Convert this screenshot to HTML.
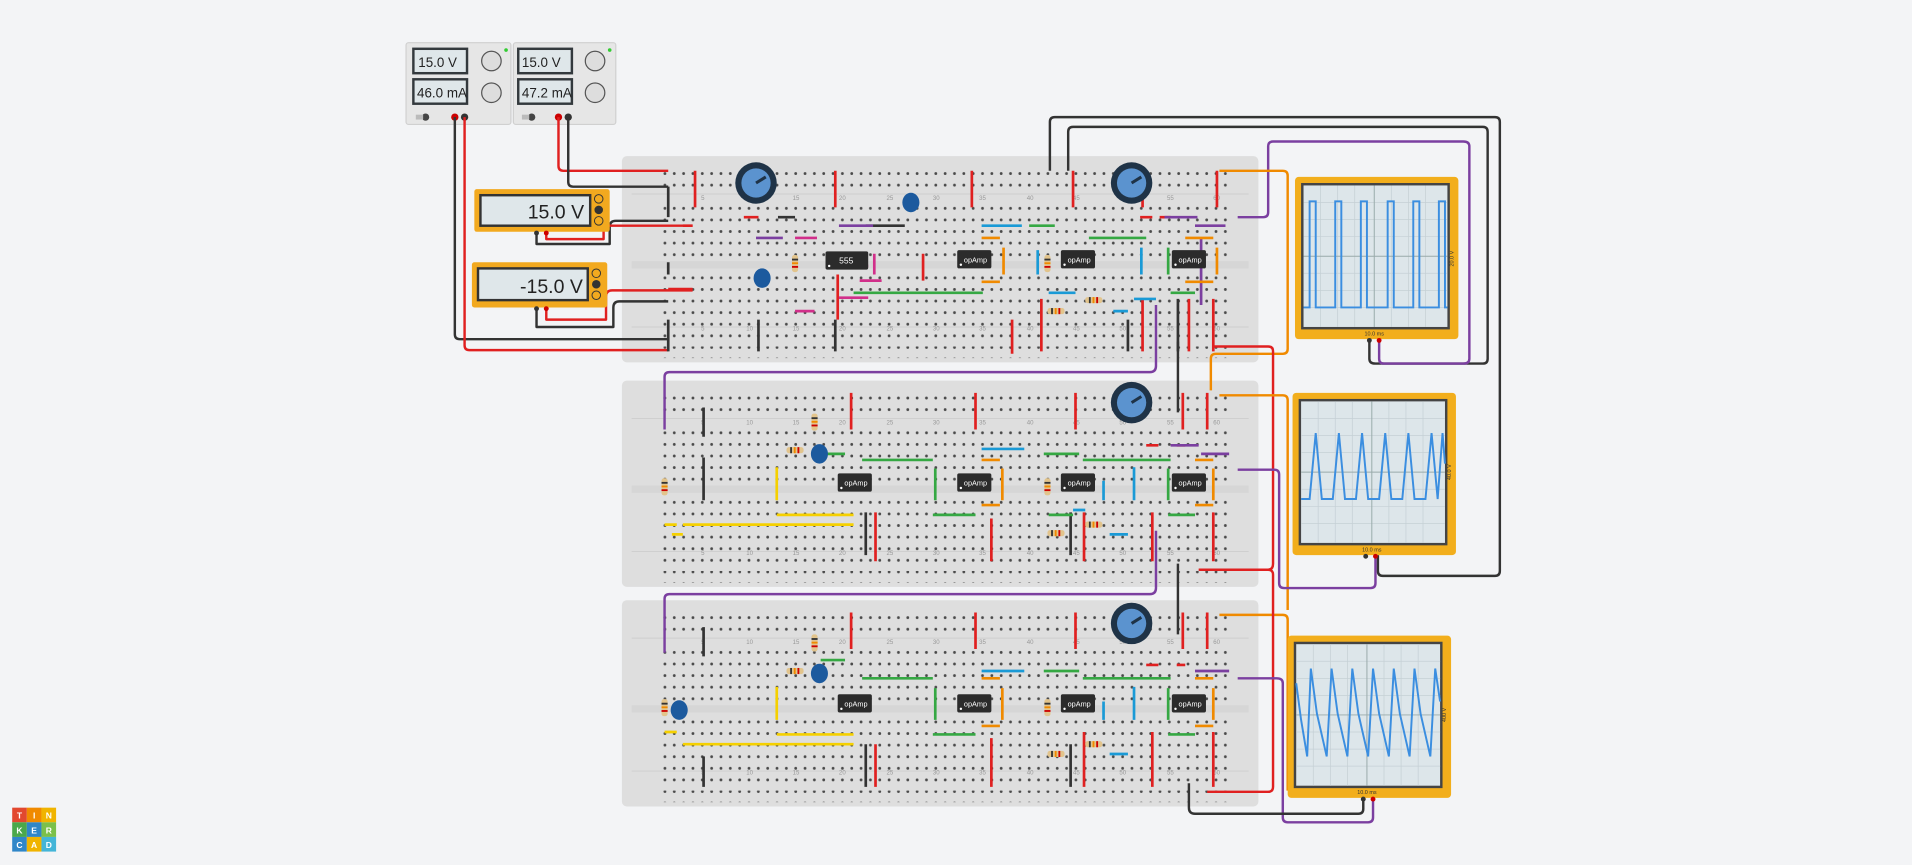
<!DOCTYPE html>
<html><head><meta charset="utf-8"><style>
html,body{margin:0;padding:0;background:#f3f4f6;}
svg{display:block;font-family:"Liberation Sans",sans-serif;}
</style></head><body>
<svg width="1912" height="865" viewBox="0 0 1568 709" preserveAspectRatio="none" xmlns="http://www.w3.org/2000/svg">
<defs>
<pattern id="hp" x="541.5" y="0" width="7.66" height="9.5" patternUnits="userSpaceOnUse">
<circle cx="3.8" cy="4.75" r="1.15" fill="#4a4a4a"/></pattern>
<g id="bb">
<rect x="510" y="0" width="522" height="169" rx="4" fill="#dedede"/>
<rect x="541" y="7.5" width="466" height="9.5" fill="url(#hp)"/>
<rect x="541" y="20" width="466" height="9.5" fill="url(#hp)"/>
<rect x="541" y="37" width="466" height="48" fill="url(#hp)"/>
<rect x="541" y="92.5" width="466" height="48" fill="url(#hp)"/>
<rect x="541" y="143.5" width="466" height="9.5" fill="url(#hp)"/>
<rect x="541" y="156" width="466" height="9.5" fill="url(#hp)"/>
<line x1="518" y1="31" x2="1024" y2="31" stroke="#cfcfcf" stroke-width="0.8"/>
<line x1="518" y1="140" x2="1024" y2="140" stroke="#cfcfcf" stroke-width="0.8"/>
<rect x="518" y="86" width="506" height="6" fill="#d6d6d6"/>
<g font-size="5" fill="#999">
<text x="575" y="36">5</text><text x="612" y="36">10</text><text x="650" y="36">15</text><text x="688" y="36">20</text><text x="727" y="36">25</text><text x="765" y="36">30</text><text x="803" y="36">35</text><text x="842" y="36">40</text><text x="880" y="36">45</text><text x="918" y="36">50</text><text x="957" y="36">55</text><text x="995" y="36">60</text>
<text x="575" y="143">5</text><text x="612" y="143">10</text><text x="650" y="143">15</text><text x="688" y="143">20</text><text x="727" y="143">25</text><text x="765" y="143">30</text><text x="803" y="143">35</text><text x="842" y="143">40</text><text x="880" y="143">45</text><text x="918" y="143">50</text><text x="957" y="143">55</text><text x="995" y="143">60</text>
</g>
</g>
<g id="ic"><rect x="0" y="0" width="28" height="15" rx="1.5" fill="#2b2b2b"/><circle cx="3" cy="12" r="1" fill="#fff"/><text x="15" y="10" font-size="6" fill="#fff" text-anchor="middle">opAmp</text></g>
<g id="pot"><circle r="17" fill="#1f3347"/><circle r="12" fill="#5b93cf"/><line x1="0" y1="0" x2="8" y2="-5" stroke="#1f3347" stroke-width="2.5"/></g>
<g id="res"><rect x="-2.5" y="-7" width="5" height="14" rx="2" fill="#e2c48c"/><rect x="-2.5" y="-4" width="5" height="1.5" fill="#333"/><rect x="-2.5" y="-1" width="5" height="1.5" fill="#f08a00"/><rect x="-2.5" y="2" width="5" height="1.5" fill="#c00"/></g>
<g id="resh"><rect x="-7" y="-2.5" width="14" height="5" rx="2" fill="#e2c48c"/><rect x="-4" y="-2.5" width="1.5" height="5" fill="#333"/><rect x="-1" y="-2.5" width="1.5" height="5" fill="#f08a00"/><rect x="2" y="-2.5" width="1.5" height="5" fill="#c00"/></g>
</defs>

<!-- breadboards -->
<use href="#bb" y="128"/>
<use href="#bb" y="312"/>
<use href="#bb" y="492"/>

<!-- power supplies -->
<g>
<rect x="333" y="35" width="86" height="67" rx="2" fill="#e6e6e6" stroke="#d0d0d0"/>
<rect x="338" y="39" width="46" height="22" fill="#33393d"/><rect x="340" y="41" width="42" height="18" fill="#dfe7ea"/>
<text x="343" y="55" font-size="11" fill="#222">15.0 V</text>
<rect x="338" y="64" width="46" height="22" fill="#33393d"/><rect x="340" y="66" width="42" height="18" fill="#dfe7ea"/>
<text x="342" y="80" font-size="11" fill="#222">46.0 mA</text>
<circle cx="403" cy="50" r="8" fill="#ddd" stroke="#555"/><circle cx="403" cy="76" r="8" fill="#ddd" stroke="#555"/>
<circle cx="415" cy="41" r="1.5" fill="#3c3"/>
<circle cx="349" cy="96" r="3" fill="#444"/><rect x="341" y="94" width="6" height="4" fill="#bbb"/>
<circle cx="373" cy="96" r="3" fill="#c00"/><circle cx="381" cy="96" r="3" fill="#333"/>
<rect x="421" y="35" width="84" height="67" rx="2" fill="#e6e6e6" stroke="#d0d0d0"/>
<rect x="424" y="39" width="46" height="22" fill="#33393d"/><rect x="426" y="41" width="42" height="18" fill="#dfe7ea"/>
<text x="428" y="55" font-size="11" fill="#222">15.0 V</text>
<rect x="424" y="64" width="46" height="22" fill="#33393d"/><rect x="426" y="66" width="42" height="18" fill="#dfe7ea"/>
<text x="428" y="80" font-size="11" fill="#222">47.2 mA</text>
<circle cx="488" cy="50" r="8" fill="#ddd" stroke="#555"/><circle cx="488" cy="76" r="8" fill="#ddd" stroke="#555"/>
<circle cx="500" cy="41" r="1.5" fill="#3c3"/>
<circle cx="436" cy="96" r="3" fill="#444"/><rect x="428" y="94" width="6" height="4" fill="#bbb"/>
<circle cx="458" cy="96" r="3" fill="#c00"/><circle cx="466" cy="96" r="3" fill="#333"/>
</g>

<!-- external wires -->
<g fill="none" stroke-width="2" stroke-linejoin="round">
<path d="M373 96 V274 Q373 278 377 278 H548" stroke="#333"/>
<path d="M381 96 V283 Q381 287 385 287 H548" stroke="#e02020"/>
<path d="M458 96 V136 Q458 140 462 140 H548" stroke="#e02020"/>
<path d="M466 96 V149 Q466 153 470 153 H548" stroke="#333"/>
<path d="M440 190 V200 H500 V186 Q500 181 505 181 H548" stroke="#333"/>
<path d="M448 190 V196 H495 V190 Q495 185 500 185 H568" stroke="#e02020"/>
<path d="M440 252 V268 H503 V252 Q503 247 508 247 H548" stroke="#333"/>
<path d="M448 252 V262 H497 V243 Q497 238 502 238 H568" stroke="#e02020"/>
<path d="M861 140 V100 Q861 96 865 96 H1226 Q1230 96 1230 100 V468 Q1230 472 1226 472 H1134 Q1130 472 1130 468 V455" stroke="#333"/>
<path d="M876 140 V108 Q876 104 880 104 H1216 Q1220 104 1220 108 V294 Q1220 298 1216 298 H1128 Q1123 298 1123 294 V280" stroke="#333"/>
<path d="M1015 178 H1036 Q1040 178 1040 174 V120 Q1040 116 1044 116 H1200 Q1205 116 1205 120 V294 Q1205 298 1200 298 H1135 Q1131 298 1131 294 V280" stroke="#7b3fa0"/>
<path d="M1000 140 H1052 Q1056 140 1056 144 V286 Q1056 290 1052 290 H997 Q993 290 993 294 V320" stroke="#f08a00"/>
<path d="M948 250 V300 Q948 305 943 305 H549 Q545 305 545 309 V352" stroke="#7b3fa0"/>
<path d="M995 280 V284 H1040 Q1044 284 1044 288 V462 Q1044 467 1040 467 H990" stroke="#e02020"/>
<path d="M966 280 V338" stroke="#333"/>
<path d="M1000 324 H1052 Q1056 324 1056 328 V500" stroke="#f08a00"/>
<path d="M1015 385 H1045 Q1049 385 1049 389 V478 Q1049 482 1053 482 H1124 Q1128 482 1128 478 V455" stroke="#7b3fa0"/>
<path d="M948 435 V482 Q948 487 943 487 H549 Q545 487 545 491 V535" stroke="#7b3fa0"/>
<path d="M966 462 V520" stroke="#333"/>
<path d="M1000 504 H1052 Q1056 504 1056 508 V648" stroke="#f08a00"/>
<path d="M983 467 H1040 Q1044 467 1044 471 V645 Q1044 649 1040 649 H990" stroke="#e02020"/>
<path d="M1015 556 H1047 Q1052 556 1052 560 V670 Q1052 674 1056 674 H1122 Q1126 674 1126 670 V654" stroke="#7b3fa0"/>
<path d="M975 642 V662 Q975 667 980 667 H1114 Q1118 667 1118 663 V654" stroke="#333"/>
</g>

<!-- breadboard jumpers -->
<g stroke-width="2.2" fill="none">
<!-- BB1 -->
<g stroke="#e02020"><path d="M570 140V170M685 140V170M797 140V170M880 140V170M998 140V170M937 140V170M687 225V262M757 208V230M830 262V290M854 245V288M937 245V288M975 245V288M995 245V288"/><path d="M610 178H622M935 178H945M951 178H960M560 185H568M548 237H568"/></g>
<g stroke="#333"><path d="M548 153V178M548 215V225M548 262V288M622 262V288M685 262V288M925 262V288M966 245V288"/><path d="M638 178H652M710 185H742"/></g>
<g stroke="#7b3fa0"><path d="M620 195H642M688 185H716M955 178H982M980 185H1005M985 195V250"/></g>
<g stroke="#d12f8a"><path d="M652 195H670M695 218H712M705 230H723M688 244H712M652 255H668M717 208V225"/></g>
<g stroke="#1a9ad6"><path d="M805 185H838M860 240H882M930 245H948M913 255H925M851 205V225M936 203V225"/></g>
<g stroke="#35a843"><path d="M844 185H865M893 195H940M700 240H806M960 240H980M958 203V225"/></g>
<g stroke="#f08a00"><path d="M805 195H820M972 195H995M805 231H820M972 231H995M823 203V225M998 203V225"/></g>
<!-- BB2 -->
<g stroke="#e02020"><path d="M698 322V352M800 322V352M882 322V352M970 322V352M990 322V352M718 420V460M813 425V460M889 420V460M945 420V460M995 420V460"/><path d="M940 365H950M965 365H972"/></g>
<g stroke="#333"><path d="M577 334V358M577 375V410M710 420V455M878 420V455"/></g>
<g stroke="#7b3fa0"><path d="M960 365H983M985 372H1008"/></g>
<g stroke="#1a9ad6"><path d="M805 368H840M905 394V410M930 383V410M880 418H890M910 438H925"/></g>
<g stroke="#35a843"><path d="M673 372H693M707 377H765M856 372H885M888 377H960M767 384V410M958 384V410M765 422H800M860 422H880M958 422H980"/></g>
<g stroke="#f08a00"><path d="M805 377H820M980 377H995M805 414H820M980 414H995M822 384V410M995 384V410"/></g>
<g stroke="#f5d000"><path d="M637 383V410M637 422H700M560 430H700M545 430H555M551 438H560"/></g>
<!-- BB3 -->
<g stroke="#e02020"><path d="M698 502V532M800 502V532M882 502V532M970 502V532M990 502V532M718 610V645M813 605V645M889 600V645M945 600V645M995 600V645"/><path d="M940 545H950M965 545H972"/></g>
<g stroke="#333"><path d="M577 514V538M577 620V645M710 610V645M878 610V645"/></g>
<g stroke="#7b3fa0"><path d="M980 550H1008"/></g>
<g stroke="#1a9ad6"><path d="M805 550H840M905 575V590M930 563V590M910 618H925"/></g>
<g stroke="#35a843"><path d="M673 541H693M707 556H765M856 550H885M888 556H960M767 564V590M958 564V590M765 602H800M958 602H980"/></g>
<g stroke="#f08a00"><path d="M805 556H820M980 556H995M805 595H820M980 595H995M822 564V590M995 564V590"/></g>
<g stroke="#f5d000"><path d="M637 563V590M637 602H700M560 610H700M545 600H555"/></g>
</g>

<!-- components -->
<use href="#pot" x="620" y="150"/><use href="#pot" x="928" y="150"/>
<use href="#pot" x="928" y="330"/><use href="#pot" x="928" y="511"/>
<g fill="#1c5a9e">
<ellipse cx="747" cy="166" rx="7" ry="8"/><ellipse cx="625" cy="228" rx="7" ry="8"/>
<ellipse cx="672" cy="372" rx="7" ry="8"/><ellipse cx="672" cy="552" rx="7" ry="8"/><ellipse cx="557" cy="582" rx="7" ry="8"/>
</g>
<g><rect x="677" y="206" width="35" height="15" rx="1.5" fill="#2b2b2b"/><circle cx="680" cy="218" r="1" fill="#fff"/><text x="694" y="216" font-size="7" fill="#fff" text-anchor="middle">555</text></g>
<use href="#ic" x="785" y="205"/><use href="#ic" x="870" y="205"/><use href="#ic" x="961" y="205"/>
<use href="#ic" x="687" y="388"/><use href="#ic" x="785" y="388"/><use href="#ic" x="870" y="388"/><use href="#ic" x="961" y="388"/>
<use href="#ic" x="687" y="569"/><use href="#ic" x="785" y="569"/><use href="#ic" x="870" y="569"/><use href="#ic" x="961" y="569"/>
<use href="#res" x="652" y="216"/><use href="#res" x="859" y="216"/><use href="#resh" x="897" y="246"/><use href="#resh" x="866" y="255"/>
<use href="#res" x="668" y="346"/><use href="#resh" x="652" y="369"/><use href="#res" x="545" y="399"/><use href="#res" x="859" y="399"/><use href="#resh" x="897" y="430"/><use href="#resh" x="866" y="437"/>
<use href="#res" x="668" y="527"/><use href="#resh" x="652" y="550"/><use href="#res" x="545" y="580"/><use href="#res" x="859" y="580"/><use href="#resh" x="897" y="610"/><use href="#resh" x="866" y="618"/>

<!-- multimeters -->
<g>
<rect x="389" y="155" width="111" height="35" rx="2" fill="#f2a91f"/>
<rect x="393" y="159" width="92" height="27" fill="#333"/><rect x="395" y="161" width="88" height="23" fill="#dfe7ea"/>
<text x="479" y="179" font-size="16" fill="#222" text-anchor="end">15.0 V</text>
<circle cx="491" cy="163" r="3.5" fill="#f2a91f" stroke="#333" stroke-width="0.8"/><circle cx="491" cy="172" r="3.5" fill="#333"/><circle cx="491" cy="181" r="3.5" fill="#f2a91f" stroke="#333" stroke-width="0.8"/>
<circle cx="440" cy="191" r="2" fill="#333"/><circle cx="448" cy="191" r="2" fill="#c00"/>
<rect x="387" y="215" width="111" height="37" rx="2" fill="#f2a91f"/>
<rect x="391" y="219" width="92" height="28" fill="#333"/><rect x="393" y="221" width="88" height="24" fill="#dfe7ea"/>
<text x="478" y="240" font-size="16" fill="#222" text-anchor="end">-15.0 V</text>
<circle cx="489" cy="224" r="3.5" fill="#f2a91f" stroke="#333" stroke-width="0.8"/><circle cx="489" cy="233" r="3.5" fill="#333"/><circle cx="489" cy="242" r="3.5" fill="#f2a91f" stroke="#333" stroke-width="0.8"/>
<circle cx="440" cy="253" r="2" fill="#333"/><circle cx="448" cy="253" r="2" fill="#c00"/>
</g>

<!-- oscilloscopes -->
<g>
<rect x="1062" y="145" width="134" height="133" rx="3" fill="#f2ae1c"/>
<rect x="1067" y="150" width="122" height="120" fill="#444"/><rect x="1069" y="152" width="118" height="116" fill="#dde6ea"/>
<g stroke="#c5d0d5" stroke-width="0.6"><path d="M1083 152V268M1097 152V268M1111 152V268M1141 152V268M1155 152V268M1169 152V268M1069 166H1187M1069 180H1187M1069 194H1187M1069 224H1187M1069 238H1187M1069 252H1187"/></g>
<g stroke="#9aa" stroke-width="0.8"><path d="M1127 152V268M1069 210H1187"/></g>
<polyline fill="none" stroke="#3b8ee0" stroke-width="1.6" points="1069,252 1074,252 1074,165 1079,165 1079,252 1095,252 1095,165 1100,165 1100,252 1116,252 1116,165 1121,165 1121,252 1138,252 1138,165 1143,165 1143,252 1159,252 1159,165 1164,165 1164,252 1180,252 1180,165 1185,165 1185,252 1187,252"/>
<text x="1127" y="275" font-size="4.5" fill="#333" text-anchor="middle">10.0 ms</text>
<text x="1192" y="212" font-size="4.5" fill="#333" transform="rotate(-90 1192 212)" text-anchor="middle">20.0 V</text>
<circle cx="1123" cy="279" r="2" fill="#333"/><circle cx="1131" cy="279" r="2" fill="#c00"/>

<rect x="1060" y="322" width="134" height="133" rx="3" fill="#f2ae1c"/>
<rect x="1065" y="327" width="122" height="120" fill="#444"/><rect x="1067" y="329" width="118" height="116" fill="#dde6ea"/>
<g stroke="#c5d0d5" stroke-width="0.6"><path d="M1081 329V445M1095 329V445M1109 329V445M1139 329V445M1153 329V445M1167 329V445M1067 343H1185M1067 357H1185M1067 371H1185M1067 401H1185M1067 415H1185M1067 429H1185"/></g>
<g stroke="#9aa" stroke-width="0.8"><path d="M1125 329V445M1067 387H1185"/></g>
<polyline fill="none" stroke="#3b8ee0" stroke-width="1.6" points="1067,409 1074,409 1079,355 1084,409 1093,409 1098,355 1103,409 1112,409 1117,355 1122,409 1131,409 1136,355 1141,409 1150,409 1155,355 1160,409 1169,409 1174,355 1179,409 1183,355 1185,380"/>
<text x="1125" y="452" font-size="4.5" fill="#333" text-anchor="middle">10.0 ms</text>
<text x="1190" y="387" font-size="4.5" fill="#333" transform="rotate(-90 1190 387)" text-anchor="middle">40.0 V</text>
<circle cx="1120" cy="456" r="2" fill="#333"/><circle cx="1128" cy="456" r="2" fill="#c00"/>

<rect x="1056" y="521" width="134" height="133" rx="3" fill="#f2ae1c"/>
<rect x="1061" y="526" width="122" height="120" fill="#444"/><rect x="1063" y="528" width="118" height="116" fill="#dde6ea"/>
<g stroke="#c5d0d5" stroke-width="0.6"><path d="M1077 528V644M1091 528V644M1105 528V644M1135 528V644M1149 528V644M1163 528V644M1063 542H1181M1063 556H1181M1063 570H1181M1063 600H1181M1063 614H1181M1063 628H1181"/></g>
<g stroke="#9aa" stroke-width="0.8"><path d="M1121 528V644M1063 586H1181"/></g>
<polyline fill="none" stroke="#3b8ee0" stroke-width="1.6" points="1063,560 1067,590 1072,620 1075,548 1080,585 1088,620 1092,548 1097,585 1105,620 1109,548 1114,585 1122,620 1126,548 1131,585 1139,620 1143,548 1148,585 1156,620 1160,548 1165,585 1173,620 1177,548 1181,575"/>
<text x="1121" y="651" font-size="4.5" fill="#333" text-anchor="middle">10.0 ms</text>
<text x="1186" y="586" font-size="4.5" fill="#333" transform="rotate(-90 1186 586)" text-anchor="middle">400 V</text>
<circle cx="1118" cy="655" r="2" fill="#333"/><circle cx="1126" cy="655" r="2" fill="#c00"/>
</g>

<!-- logo -->
<g font-size="7" font-weight="bold" fill="#fff" text-anchor="middle">
<rect x="10" y="662" width="12" height="12" fill="#e2482f"/><text x="16" y="671">T</text>
<rect x="22" y="662" width="12" height="12" fill="#f08a00"/><text x="28" y="671">I</text>
<rect x="34" y="662" width="12" height="12" fill="#f0b400"/><text x="40" y="671">N</text>
<rect x="10" y="674" width="12" height="12" fill="#4aa84a"/><text x="16" y="683">K</text>
<rect x="22" y="674" width="12" height="12" fill="#2f86c8"/><text x="28" y="683">E</text>
<rect x="34" y="674" width="12" height="12" fill="#7bc04a"/><text x="40" y="683">R</text>
<rect x="10" y="686" width="12" height="12" fill="#2f86c8"/><text x="16" y="695">C</text>
<rect x="22" y="686" width="12" height="12" fill="#f0b400"/><text x="28" y="695">A</text>
<rect x="34" y="686" width="12" height="12" fill="#43b5d8"/><text x="40" y="695">D</text>
</g>
</svg>
</body></html>
